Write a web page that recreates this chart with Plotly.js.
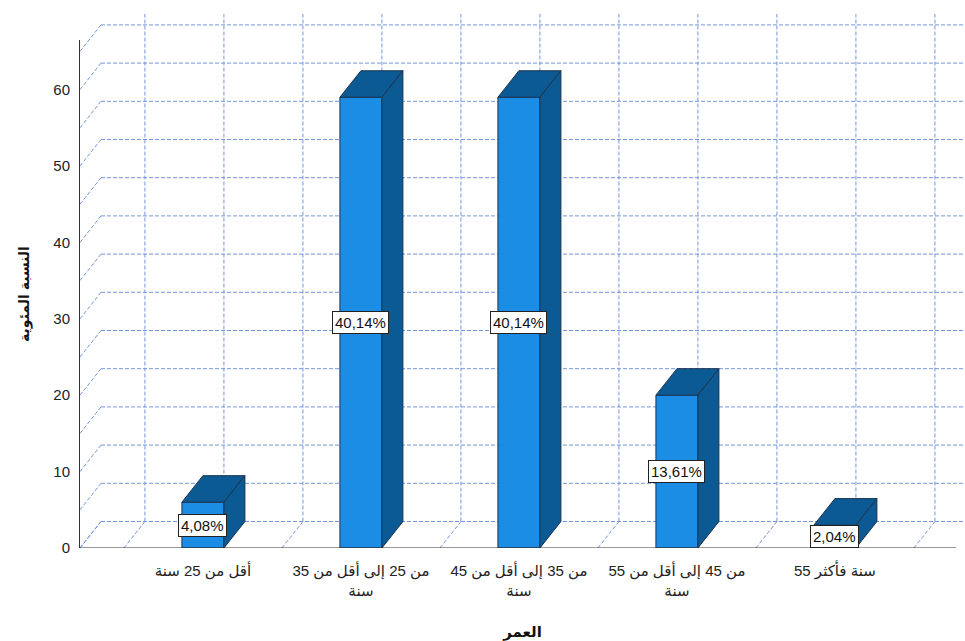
<!DOCTYPE html>
<html><head><meta charset="utf-8">
<script src="https://cdn.plot.ly/plotly-3.0.1.min.js"></script>
<style>html,body{margin:0;padding:0;background:#fff}</style>
</head><body><div id="chart" style="width:965px;height:641px"></div>
<script>
// ---- data ----
const categories = ["أقل من 25 سنة", "من 25 إلى أقل من 35<br>سنة", "من 35 إلى أقل من 45<br>سنة", "من 45 إلى أقل من 55<br>سنة", "55 سنة فأكثر"];
const counts = [6, 59, 59, 20, 3];
const pctLabels = ["4,08%", "40,14%", "40,14%", "13,61%", "2,04%"];
const yTicks = [0, 10, 20, 30, 40, 50, 60];
const gridLevels = [0, 5, 10, 15, 20, 25, 30, 35, 40, 45, 50, 55, 60, 65];
const xTitle = "العمر";
const yTitle = "النسبة المئوية";

// ---- geometry / style ----
const W = 965, H = 641, ML = 80, MR = 0, MT = 14, MB = 93;
const PXC = 158, PXU = 7.64;           // px per category, px per unit
const XL = -0.778;
const XR = XL + (W - ML - MR) / PXC;
const YFULL = (H - MT - MB) / PXU;
const FRONT_TOP_PX = 40;
const YFRONT = (H - MB - FRONT_TOP_PX) / PXU;
const DX = 21 / PXC, DY = 26.5 / PXU;  // depth offset
const BW = 42 / PXC;
const AXIS_END = XL + (956 - ML) / PXC;
const GRID_COL = '#7596dc';
const FRONT_COL = '#1b8de4', DARK_COL = '#0c5a94', EDGE_COL = '#1b3350';
const FONT = 'Liberation Sans, Arial, DejaVu Sans, sans-serif';

// ---- grid (back wall, left wall, floor) ----
const gx = [], gy = [];
function seg(x0, y0, x1, y1) { gx.push(x0, x1, null); gy.push(y0, y1, null); }
gridLevels.forEach(v => { seg(XL + DX, v + DY, XR, v + DY); seg(XL, v, XL + DX, v + DY); });
const boundaries = [];
for (let i = 0; i <= categories.length; i++) boundaries.push(i - 0.5);
const verticals = [];
for (let i = 0; i < categories.length; i++) verticals.push(i - 0.5, i);
verticals.push(categories.length - 0.5);
verticals.forEach(x => seg(x + DX, DY, x + DX, YFULL));
[XL].concat(boundaries).forEach(x => seg(x, 0, x + DX, DY));

const traces = [];
traces.push({type: 'scatter', mode: 'lines', x: gx, y: gy, xaxis: 'x', yaxis: 'y',
  line: {color: GRID_COL, width: 1, dash: '4px,2px'}, hoverinfo: 'skip', showlegend: false});

// ---- bars ----
const idx = categories.map((c, i) => i);
traces.push({type: 'bar', x: idx, y: counts, width: BW, xaxis: 'x', yaxis: 'y2',
  marker: {color: FRONT_COL, line: {color: EDGE_COL, width: 1}}, hoverinfo: 'skip', showlegend: false});
counts.forEach((v, i) => {
  const l = i - BW / 2, r = i + BW / 2;
  traces.push({type: 'scatter', mode: 'lines', fill: 'toself', fillcolor: DARK_COL, xaxis: 'x', yaxis: 'y2',
    x: [l, r, r + DX, l + DX, l], y: [v, v, v + DY, v + DY, v],
    line: {color: EDGE_COL, width: 1}, hoverinfo: 'skip', showlegend: false});
  traces.push({type: 'scatter', mode: 'lines', fill: 'toself', fillcolor: DARK_COL, xaxis: 'x', yaxis: 'y2',
    x: [r, r + DX, r + DX, r, r], y: [0, DY, v + DY, v, 0],
    line: {color: EDGE_COL, width: 1}, hoverinfo: 'skip', showlegend: false});
});
// baseline
traces.push({type: 'scatter', mode: 'lines', x: [XL, AXIS_END], y: [0, 0], xaxis: 'x', yaxis: 'y2',
  line: {color: '#333', width: 1}, hoverinfo: 'skip', showlegend: false});

const annotations = counts.map((v, i) => ({
  x: i, y: v / 2, xref: 'x', yref: 'y2', text: pctLabels[i], showarrow: false,
  bgcolor: '#fff', bordercolor: '#222', borderwidth: 1, borderpad: 2,
  font: {family: FONT, size: 15, color: '#111'}
}));

const layout = {
  width: W, height: H,
  margin: {l: ML, r: MR, t: MT, b: MB},
  paper_bgcolor: '#fff', plot_bgcolor: 'rgba(0,0,0,0)',
  showlegend: false,
  font: {family: FONT, size: 15, color: '#222'},
  xaxis: {range: [XL, XR], tickvals: idx, ticktext: categories, ticks: '', showline: false,
    showgrid: false, zeroline: false, anchor: 'y', tickfont: {size: 15, color: '#222'},
    ticklabelstandoff: 12,
    title: {text: xTitle, font: {size: 15, color: '#111', weight: 'bold'}, standoff: 30}},
  yaxis: {domain: [0, 1], range: [0, YFULL], visible: false, showgrid: false, zeroline: false, anchor: 'x'},
  yaxis2: {domain: [0, YFRONT / YFULL], range: [0, YFRONT], anchor: 'x', tickvals: yTicks, ticks: '',
    showline: true, linecolor: '#333', linewidth: 1, showgrid: false, zeroline: false,
    ticklabelstandoff: 6, tickfont: {size: 15, color: '#222'},
    title: {text: yTitle, font: {size: 14, color: '#111', weight: 'bold'}, standoff: 20}},
  annotations: annotations
};
Plotly.newPlot('chart', traces, layout, {staticPlot: true, displayModeBar: false});
</script></body></html>
